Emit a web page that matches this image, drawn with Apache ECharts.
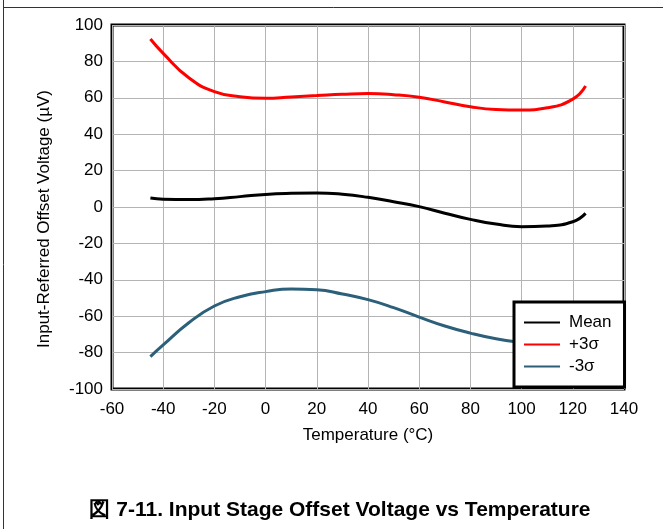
<!DOCTYPE html>
<html>
<head>
<meta charset="utf-8">
<script src="https://cdn.jsdelivr.net/npm/echarts@6/dist/echarts.min.js"></script>
<style>
html,body{margin:0;padding:0;background:#fff;}
#chart{width:663px;height:529px;}
</style>
</head>
<body>
<div id="chart"></div>
<script>
// Data
const temperatures = [-45, -40, -30, -20, -10, 0, 10, 20, 30, 40, 50, 60, 70, 80, 90, 100, 110, 120, 125];
const meanValues   = [4.9, 4.3, 4.1, 4.6, 5.7, 6.9, 7.5, 7.7, 7.0, 5.3, 2.9, 0.2, -3.4, -6.8, -9.4, -10.8, -10.4, -8.1, -3.5];
const plus3Values  = [92.3, 84.4, 71.0, 63.4, 60.6, 59.7, 60.5, 61.2, 61.9, 62.3, 61.7, 60.3, 57.7, 55.1, 53.6, 53.3, 54.5, 59.3, 66.5];
const minus3Values = [-82.2, -75.8, -63.6, -54.4, -49.3, -46.5, -45.0, -45.4, -47.8, -50.9, -55.3, -60.5, -65.4, -69.3, -72.4, -74.5, -76.0, -76.5, -76.5];
const seriesNames = ['Mean', '+3\u03c3', '-3\u03c3'];
const seriesColors = ['#000000', '#ff0000', '#2c5f7a'];
const xTicks = {min: -60, max: 140, interval: 20};
const yTicks = {min: -100, max: 100, interval: 20};
const xTitle = 'Temperature (\u00b0C)';
const yTitle = 'Input-Referred Offset Voltage (\u00b5V)';
const captionText = '\u56f3 7-11. Input Stage Offset Voltage vs Temperature';

const font = 'Liberation Sans, Arial, Helvetica, sans-serif';
const pair = (vals) => temperatures.map((t, i) => [t, vals[i]]);
const allValues = [meanValues, plus3Values, minus3Values];

const chart = echarts.init(document.getElementById('chart'), null, {renderer: 'canvas'});
chart.setOption({
  animation: false,
  backgroundColor: '#ffffff',
  title: {
    text: captionText,
    left: 335,
    top: 495,
    textAlign: 'center',
    textStyle: {fontFamily: font, fontSize: 21, fontWeight: 'bold', color: '#000'}
  },
  grid: {
    left: 112, right: 39, top: 25, bottom: 140,
    show: true, borderColor: '#000', borderWidth: 3, backgroundColor: 'transparent'
  },
  legend: {
    data: seriesNames,
    orient: 'vertical',
    left: 514,
    top: 302,
    backgroundColor: '#fff',
    borderColor: '#000',
    borderWidth: 3,
    borderRadius: 0,
    padding: [12, 13, 12, 10],
    itemGap: 5,
    itemWidth: 36,
    itemHeight: 17,
    icon: 'path://M0,7.5 L36,7.5 L36,9.5 L0,9.5 Z',
    textStyle: {fontFamily: font, fontSize: 17, color: '#000', padding: [0, 0, 0, 4]}
  },
  xAxis: {
    type: 'value',
    min: xTicks.min, max: xTicks.max, interval: xTicks.interval,
    name: xTitle,
    nameLocation: 'middle',
    nameGap: 38,
    nameTextStyle: {fontFamily: font, fontSize: 17, color: '#000'},
    axisLine: {show: false, onZero: false},
    axisTick: {show: false},
    axisLabel: {fontFamily: font, fontSize: 17, color: '#000', margin: 12},
    splitLine: {show: true, lineStyle: {color: '#b4b4b4', width: 1}}
  },
  yAxis: {
    type: 'value',
    min: yTicks.min, max: yTicks.max, interval: yTicks.interval,
    name: yTitle,
    nameLocation: 'middle',
    nameGap: 59,
    nameTextStyle: {fontFamily: font, fontSize: 17, color: '#000', padding: [0, 24, 0, 0]},
    axisLine: {show: false, onZero: false},
    axisTick: {show: false},
    axisLabel: {fontFamily: font, fontSize: 17, color: '#000', margin: 9},
    splitLine: {show: true, lineStyle: {color: '#b4b4b4', width: 1}}
  },
  series: seriesNames.map((name, i) => ({
    name: name,
    type: 'line',
    data: pair(allValues[i]),
    smooth: true,
    showSymbol: false,
    symbol: 'none',
    lineStyle: {color: seriesColors[i], width: 3},
    itemStyle: {color: seriesColors[i]},
    z: 2
  })),
  graphic: [
    {type: 'line', shape: {x1: 3.5, y1: 0, x2: 3.5, y2: 529}, style: {stroke: '#333', lineWidth: 1}},
    {type: 'line', shape: {x1: 3.5, y1: 7.5, x2: 663, y2: 7.5}, style: {stroke: '#333', lineWidth: 1}}
  ]
});
</script>
</body>
</html>
